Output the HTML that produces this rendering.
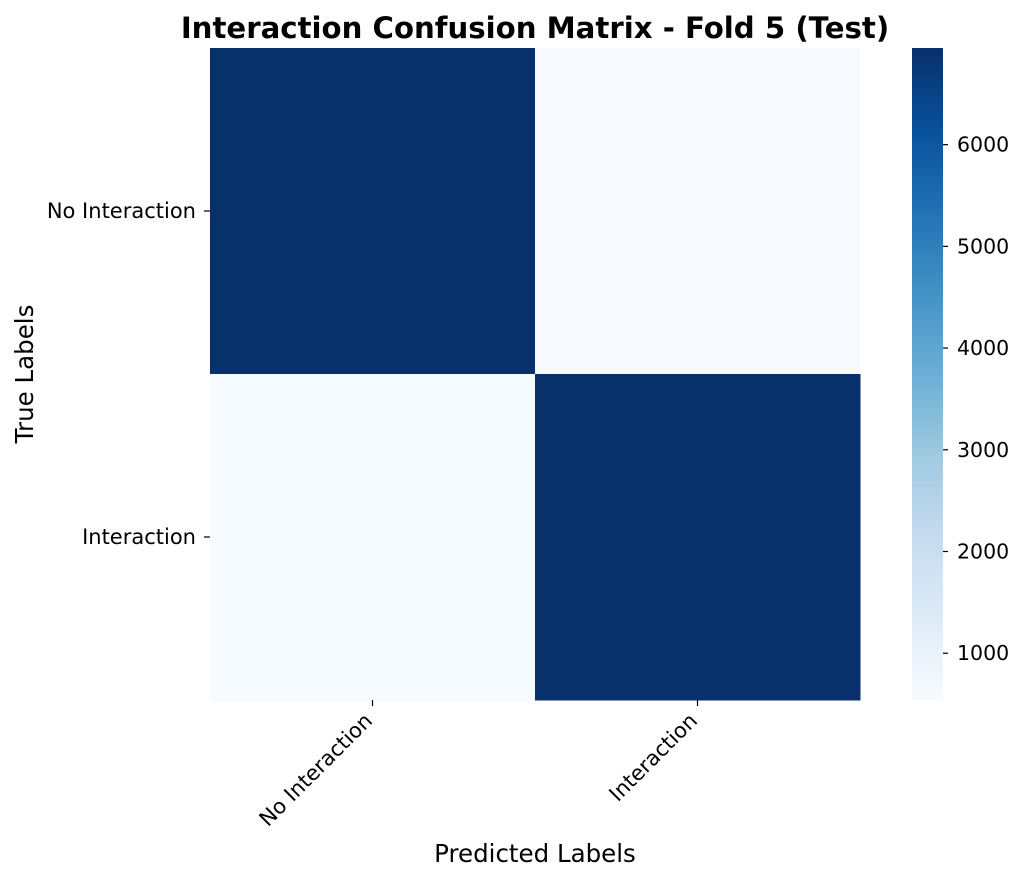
<!DOCTYPE html>
<html><head><meta charset="utf-8"><style>body{margin:0;background:#fff}svg{display:block;font-family:"DejaVu Sans","Liberation Sans",sans-serif}</style></head>
<body>
<svg id="chart" width="1026" height="882" viewBox="0 0 1026 882" xmlns="http://www.w3.org/2000/svg">
<defs><linearGradient id="cbg" x1="0" y1="1" x2="0" y2="0"></linearGradient></defs>
<text x="535" y="38" text-anchor="middle" font-size="29.2" font-weight="bold">Interaction Confusion Matrix - Fold 5 (Test)</text>
<g id="cells"></g><g id="axes"></g><g id="cbar"></g>
<text x="535" y="862" text-anchor="middle" font-size="24.5">Predicted Labels</text>
<text transform="translate(33,374) rotate(-90)" text-anchor="middle" font-size="24.5">True Labels</text>
</svg>
<script>
const rowLabels=["No Interaction","Interaction"];
const colLabels=["No Interaction","Interaction"];
const matrixRow0=[6950,540];
const matrixRow1=[560,6930];
const cbTicks=[1000,2000,3000,4000,5000,6000];

const NS="http://www.w3.org/2000/svg";
const stops=["#f7fbff","#deebf7","#c6dbef","#9ecae1","#6baed6","#4292c6","#2171b5","#08519c","#08306b"];
function hx(c){return [1,3,5].map(i=>parseInt(c.substr(i,2),16));}
function cmap(t){t=Math.max(0,Math.min(1,t));const p=t*8,i=Math.min(7,Math.floor(p)),f=p-i;const a=hx(stops[i]),b=hx(stops[i+1]);return "rgb("+a.map((v,k)=>Math.round(v+(b[k]-v)*f)).join(",")+")";}
function el(tag,attrs,parent,text){const e=document.createElementNS(NS,tag);for(const k in attrs)e.setAttribute(k,attrs[k]);if(text!=null)e.textContent=text;parent.appendChild(e);return e;}
const matrix=[matrixRow0,matrixRow1];
const all=matrix.flat();const vmin=Math.min(...all),vmax=Math.max(...all);
const X0=210,X1=860,Y0=48,Y1=700;
const cw=(X1-X0)/colLabels.length,ch=(Y1-Y0)/rowLabels.length;
const xPos=j=>X0+j*cw, yPos=i=>Y0+i*ch;
const cells=document.getElementById('cells'),axes=document.getElementById('axes'),cbar=document.getElementById('cbar');
matrix.forEach((row,i)=>row.forEach((v,j)=>{
 const r=el('rect',{x:xPos(j),y:yPos(i),width:cw+0.5,height:ch+0.5,fill:cmap((v-vmin)/(vmax-vmin))},cells);
 
 
}));
rowLabels.forEach((l,i)=>{const y=yPos(i)+ch/2;
 el('line',{x1:X0-6,x2:X0,y1:y,y2:y,stroke:'#000','stroke-width':1.2},axes);
 const t=el('text',{x:X0-14,y:y+7,'text-anchor':'end','font-size':21},axes,l);
 
 
});
colLabels.forEach((l,j)=>{const x=xPos(j)+cw/2;
 el('line',{x1:x,x2:x,y1:Y1,y2:Y1+6,stroke:'#000','stroke-width':1.2},axes);
 const t=el('text',{transform:'translate('+(x+1)+','+(Y1+22)+') rotate(-45)','text-anchor':'end','font-size':21},axes,l);
 
 
});
const CX=912,CW=31;
const cy=v=>Y1-(v-vmin)/(vmax-vmin)*(Y1-Y0);
const g=document.getElementById('cbg');
stops.forEach((s,k)=>el('stop',{offset:(k/8),'stop-color':s},g));
const cb=el('rect',{x:CX,y:Y0,width:CW,height:Y1-Y0,fill:'url(#cbg)'},cbar);


cbTicks.forEach(v=>{const y=cy(v);
 el('line',{x1:CX+CW,x2:CX+CW+5,y1:y,y2:y,stroke:'#000','stroke-width':1.2},cbar);
 const t=el('text',{x:CX+CW+14,y:y+7,'font-size':20.5},cbar,String(v));
 
 
});
</script>
</body></html>
